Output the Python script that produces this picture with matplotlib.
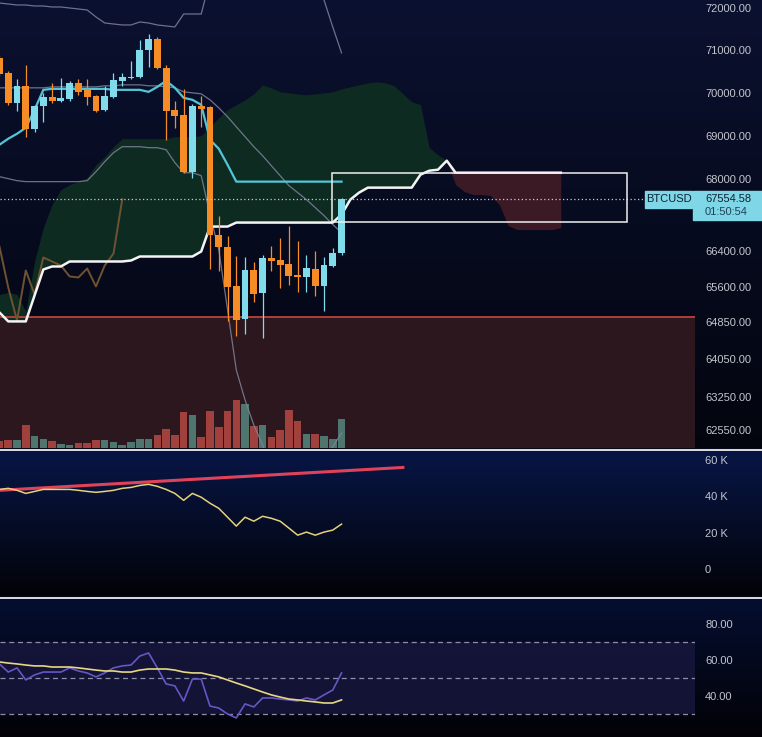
import numpy as np
import matplotlib
matplotlib.use("Agg")
import matplotlib.pyplot as plt
from matplotlib.patches import Rectangle
from matplotlib.lines import Line2D
from matplotlib.transforms import blended_transform_factory
from matplotlib.ticker import FixedLocator, NullLocator

plt.rcParams['font.family'] = ['Liberation Sans', 'DejaVu Sans']

W, H = 762, 737

# ---- BTCUSD candles ----
opens = [70812, 70460, 69760, 70156, 69159, 69691, 69900, 69807, 69853, 70226,
         70062, 69922, 69598, 69900, 70273, 70343, 70366, 71001, 71262, 70577,
         69598, 69483, 68177, 69691, 69668, 66763, 66497, 65618, 64901, 65968,
         65465, 66254, 66188, 66100, 65859, 65815, 65990, 65618, 66056, 66343]
highs = [70883, 70507, 70319, 70647, 69714, 69992, 70226, 70343, 70273, 70319,
         70319, 69945, 70156, 70460, 70460, 70741, 71238, 71380, 71310, 70647,
         69807, 70085, 69737, 69922, 69691, 67186, 66741, 66298, 66276, 66144,
         66320, 66519, 66696, 66963, 66630, 66320, 66387, 66276, 66475, 67580]
lows = [70390, 69714, 69575, 68976, 69090, 69321, 69760, 69784, 69807, 69945,
        69714, 69552, 69575, 69877, 70156, 70319, 70343, 70600, 70553, 68907,
        69182, 68154, 68041, 69205, 65990, 65946, 64858, 64536, 64579, 65269,
        64493, 65946, 65574, 65640, 65487, 65487, 65400, 65074, 66034, 66320]
closes = [70437, 69760, 70156, 69159, 69691, 69900, 69807, 69877, 70226, 70015,
          69900, 69575, 69922, 70296, 70366, 70366, 71001, 71262, 70577, 69575,
          69460, 68177, 69691, 69621, 66763, 66497, 65596, 64879, 65968, 65443,
          66254, 66166, 66078, 65837, 65815, 66012, 65618, 66078, 66343, 67554.58]
volumes = [220, 250, 250, 680, 350, 280, 200, 130, 100, 150,
           150, 250, 250, 170, 100, 170, 280, 280, 380, 580,
           380, 1070, 980, 330, 1100, 620, 1120, 1450, 1320, 650,
           700, 320, 550, 1130, 800, 420, 420, 350, 280, 880]

# ---- ichimoku ----
kijun = [68792, 68930, 69044, 69182, 69598, 70062, 70085, 70085, 70085, 70085,
         70085, 70085, 70085, 70062, 70062, 70062, 70062, 70015, 70132, 70273,
         70109, 69877, 69830, 69714, 68907, 68701, 68336, 67951, 67951, 67951,
         67951, 67951, 67951, 67951, 67951, 67951, 67951, 67951, 67951, 67951]
span_a = [65443, 65487, 65443, 65074, 66166, 66919, 67433, 67770, 67883, 67951,
          68041, 68336, 68518, 68747, 68930, 68930, 68930, 68930, 68930, 68930,
          68976, 68976, 68976, 68999, 69205, 69414, 69598, 69714, 69830, 69969,
          70179, 70109, 70015, 69992, 69969, 69945, 69969, 69992, 70015, 70085,
          70132, 70179, 70226, 70249, 70226, 70156, 69969, 69784, 69714, 68724,
          68564, 68427, 67883, 67725, 67658, 67658, 67636, 67433, 66963, 66874,
          66874, 66874, 66874, 66874, 66919]
span_b = [65052, 64858, 64858, 64858, 65421, 65990, 66056, 66056, 66166, 66166,
          66166, 66166, 66166, 66166, 66166, 66188, 66276, 66276, 66276, 66276,
          66276, 66276, 66276, 66387, 66941, 66941, 66941, 67030, 67030, 67030,
          67030, 67030, 67030, 67030, 67030, 67030, 67030, 67030, 67030, 67210,
          67545, 67703, 67815, 67815, 67815, 67815, 67815, 67815, 68109, 68199,
          68222, 68427, 68154, 68154, 68154, 68154, 68154, 68154, 68154, 68154,
          68154, 68154, 68154, 68154, 68154]
lag_shift = 25

# ---- bollinger ----
bb_upper = [72120, 72096, 72072, 72072, 72048, 72048, 72024, 72024, 72000, 71976,
            71952, 71785, 71641, 71617, 71594, 71594, 71665, 71641, 71594, 71570,
            71546, 71856, 71856, 71856, 72675, 73164, 73654, 74026, 74274, 74398,
            74398, 74274, 74026, 73654, 73286, 72922, 72557, 72192, 71546, 70930]
bb_mid = [70109, 70109, 70109, 70109, 70109, 70109, 70132, 70132, 70132, 70132,
          70132, 70132, 70156, 70156, 70179, 70179, 70179, 70156, 70156, 70132,
          70109, 70015, 69992, 69969, 69830, 69644, 69437, 69205, 68976, 68747,
          68541, 68313, 68086, 67860, 67703, 67545, 67366, 67186, 66985, 66807]
bb_lower = [68064, 68018, 67973, 67951, 67951, 67951, 67951, 67951, 67951, 67951,
            67973, 68177, 68404, 68610, 68747, 68747, 68747, 68724, 68724, 68678,
            68382, 68154, 68154, 68086, 67210, 66431, 65117, 63816, 63181, 62656,
            62240, 61826, 61518, 61313, 61272, 61354, 61559, 61888, 62199, 62489]

# ---- volume oscillator panel ----
vol_osc = [43800, 44400, 43300, 41600, 42700, 43800, 43800, 43800, 43800, 43300,
           42700, 42200, 42700, 43300, 44400, 44900, 46000, 46600, 45500, 43800,
           41600, 37800, 41600, 39500, 36200, 33400, 28500, 23600, 28500, 26300,
           29000, 27900, 26300, 22500, 18600, 20300, 18600, 20300, 21400, 24700]
trend_x = [0, 46]
trend_y = [43300, 55900]

# ---- RSI panel ----
rsi = [57.8, 53.3, 55.6, 48.9, 51.7, 53.3, 53.3, 53.3, 55.6, 53.9,
       52.8, 50.6, 52.8, 55.6, 56.7, 57.2, 62.2, 63.9, 55.6, 46.7,
       45.6, 37.2, 49.4, 49.4, 34.4, 33.3, 30.0, 27.8, 35.6, 33.9,
       38.9, 38.9, 38.3, 37.8, 37.2, 38.9, 37.8, 40.6, 43.3, 52.8]
rsi_ma = [58.9, 58.3, 57.8, 57.2, 56.7, 56.7, 56.1, 56.1, 56.1, 55.6,
          55.0, 54.4, 53.9, 53.9, 53.3, 53.3, 54.4, 55.0, 55.0, 55.0,
          54.4, 53.3, 52.8, 52.8, 51.7, 50.6, 48.9, 47.2, 45.6, 43.9,
          42.2, 40.6, 39.4, 38.3, 37.8, 37.2, 36.7, 36.1, 36.1, 37.8]

price_ticks = [72000, 71000, 70000, 69000, 68000, 66400, 65600, 64850, 64050, 63250, 62550]
osc_ticks = [60000, 40000, 20000, 0]
osc_labels = ['60 K', '40 K', '20 K', '0']
rsi_ticks = [80, 60, 40]
rsi_levels = [70, 50, 30]

support = 64950
box_x = (37.9, 71.5)
box_y = (67040, 68150)
symbol = 'BTCUSD'
countdown = '01:50:54'

# colours
UP = '#80dcea'
DOWN = '#f68c26'
TXT = '#c3c6ce'


def rect(x0, y0, x1, y1):
    return [x0 / W, 1 - y1 / H, (x1 - x0) / W, (y1 - y0) / H]


def gradient_bg(r, top, bottom):
    bg = fig.add_axes(rect(*r), zorder=0)
    bg.set_axis_off()
    t = np.linspace(0, 1, 256)[:, None]
    col = np.array(top)[None, :] * (1 - t) + np.array(bottom)[None, :] * t
    bg.imshow(col[:, None, :] / 255, aspect='auto', extent=[0, 1, 0, 1])


def style_axis(a):
    a.patch.set_visible(False)
    for s in a.spines.values():
        s.set_visible(False)
    a.yaxis.tick_right()
    a.tick_params(axis='y', length=0, pad=7.2, labelsize=8, labelcolor=TXT)
    a.tick_params(axis='x', bottom=False, labelbottom=False)


fig = plt.figure(figsize=(W / 100, H / 100), dpi=100)
fig.patch.set_facecolor('#050817')

gradient_bg((0, 0, W, 448), (11, 17, 48), (3, 5, 14))
gradient_bg((0, 451, W, 596), (8, 22, 70), (2, 3, 8))
gradient_bg((0, 599, W, H), (5, 14, 48), (2, 2, 6))

idx = np.arange(len(closes))
lead = np.arange(len(span_a))
xlim = (0.06, 79.3)

# ---------- main price panel ----------
ax = fig.add_axes(rect(0, 0, 695, 448), zorder=2)
axv = ax.twinx()
axv.set_zorder(1)
ax.set_zorder(2)
ax.set_yscale('log')
ax.set_ylim(62178, 72192)
ax.set_xlim(*xlim)

# volume + lower zone on the twin axis (underneath)
axv.set_ylim(0, 13440)
axv.patch.set_visible(False)
for s in axv.spines.values():
    s.set_visible(False)
axv.set_yticks([])
zone_tr = blended_transform_factory(axv.transAxes, ax.transData)
axv.add_patch(Rectangle((0, 60000), 1, support - 60000, transform=zone_tr,
                        color='#2b171d', zorder=0))
up = np.array(closes) >= np.array(opens)
vcol = np.where(up, '#4e766e', '#a0413e')
axv.bar(idx, volumes, width=0.86, color=vcol, zorder=1)

style_axis(ax)
ax.yaxis.set_major_locator(FixedLocator(price_ticks))
ax.yaxis.set_minor_locator(NullLocator())
ax.set_yticklabels([f'{v:.2f}' for v in price_ticks])

# cloud
sa, sb = np.array(span_a), np.array(span_b)
ax.fill_between(lead, sa, sb, where=sa >= sb, interpolate=True,
                color='#0e2b22', lw=0, zorder=1)
ax.fill_between(lead, sa, sb, where=sa < sb, interpolate=True,
                color='#3b1a26', lw=0, zorder=1)

ax.axhline(support, color='#c9463f', lw=1.2, zorder=2)

# bollinger bands
for band in (bb_upper, bb_mid, bb_lower):
    ax.plot(idx, band, color='#80829c', lw=0.9, alpha=0.85, zorder=2)

# lagging span
ax.plot(idx[:len(closes) - lag_shift], closes[lag_shift:], color='#6f5232',
        lw=1.4, zorder=2)

ax.plot(lead, span_b, color='#f4f4f4', lw=1.8, zorder=3)
ax.plot(idx, kijun, color='#52c6d6', lw=1.6, zorder=3)

# candles
ccol = np.where(up, UP, DOWN)
ax.vlines(idx, lows, highs, colors=ccol, lw=0.9, zorder=4)
ax.bar(idx, np.abs(np.array(closes) - np.array(opens)),
       bottom=np.minimum(opens, closes), width=0.78, color=ccol, zorder=5)

last = closes[-1]
ax.hlines(last, xlim[0], 73.6, colors='#c8ccd8', linestyles=(0, (1, 2)),
          lw=0.9, zorder=6)
ax.add_patch(Rectangle((box_x[0], box_y[0]), box_x[1] - box_x[0],
                       box_y[1] - box_y[0], fill=False, ec='#f0f0f0',
                       lw=1.1, zorder=6))

# ---------- volume oscillator ----------
ax2 = fig.add_axes(rect(0, 451, 695, 596), zorder=2)
style_axis(ax2)
ax2.set_xlim(*xlim)
ax2.set_ylim(-14900, 64960)
ax2.set_yticks(osc_ticks)
ax2.set_yticklabels(osc_labels)
ax2.plot(trend_x, trend_y, color='#e0425a', lw=2.2)
ax2.plot(idx, vol_osc, color='#e6d27a', lw=1.1)

# ---------- RSI ----------
ax3 = fig.add_axes(rect(0, 599, 695, H), zorder=2)
style_axis(ax3)
ax3.set_xlim(*xlim)
ax3.set_ylim(17.2, 93.9)
ax3.set_yticks(rsi_ticks)
ax3.set_yticklabels([f'{v:.2f}' for v in rsi_ticks])
ax3.axhspan(rsi_levels[-1], rsi_levels[0], color='#16163c', alpha=0.85, lw=0)
for lv in rsi_levels:
    ax3.axhline(lv, color='#8c8eaa', lw=0.9, ls=(0, (4, 3)))
ax3.plot(idx, rsi, color='#6656c4', lw=1.2)
ax3.plot(idx, rsi_ma, color='#e8d882', lw=1.2)

# panel separators
for ysep in (449.5, 597.5):
    fig.add_artist(Line2D([0, 1], [1 - ysep / H] * 2, transform=fig.transFigure,
                          color='#dcdee4', lw=1.4))

# price labels
y_px = ax.transData.transform((0, last))[1]
yc = H - y_px
fig.patches.append(Rectangle((645 / W, 1 - (yc + 9) / H), 47 / W, 17 / H,
                             transform=fig.transFigure, color='#7fd6e6'))
fig.text(668.5 / W, 1 - yc / H, symbol, ha='center', va='center',
         fontsize=8, color='#0d2233')
fig.patches.append(Rectangle((693 / W, 1 - (yc + 21) / H), 69 / W, 29 / H,
                             transform=fig.transFigure, color='#7fd6e6'))
fig.text(705 / W, 1 - yc / H, f'{last:.2f}', ha='left', va='center',
         fontsize=8, color='#0d2233')
fig.text(705 / W, 1 - (yc + 13) / H, countdown, ha='left', va='center',
         fontsize=8, color='#1e4258')

fig.savefig('out.png', dpi=100, facecolor=fig.get_facecolor())
